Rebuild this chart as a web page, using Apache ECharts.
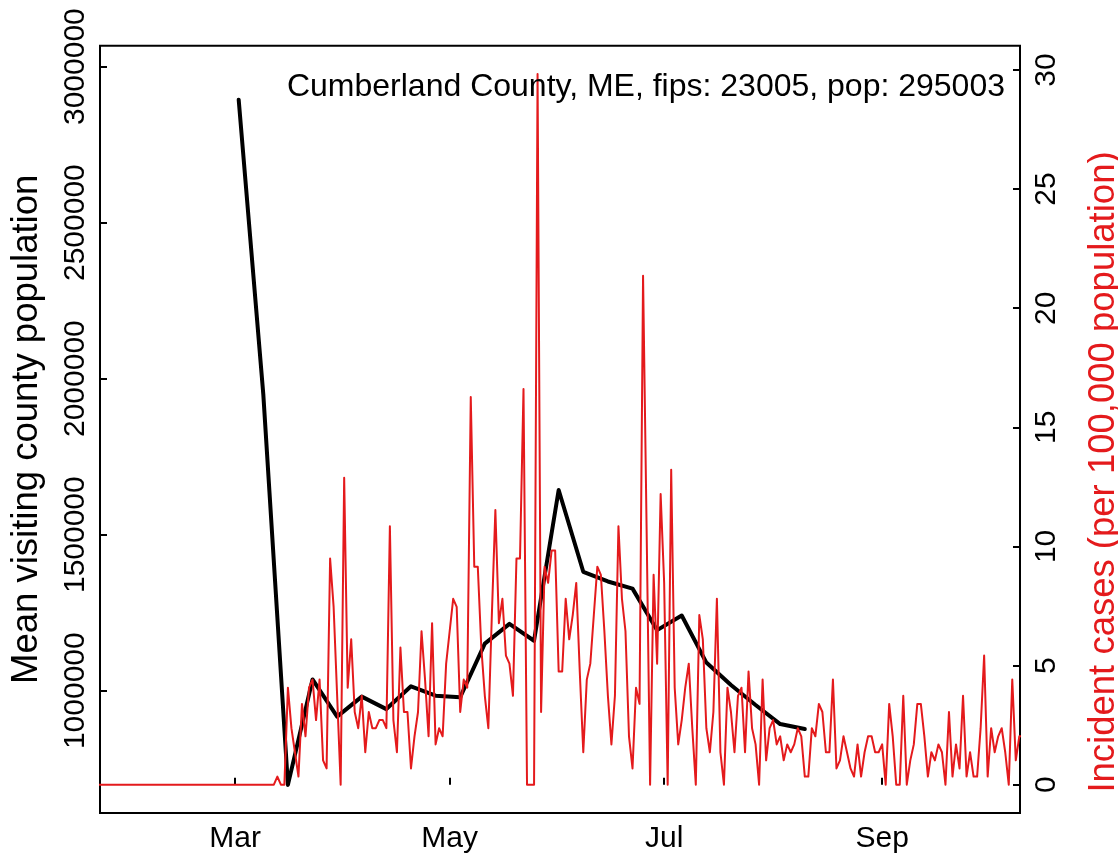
<!DOCTYPE html>
<html>
<head>
<meta charset="utf-8">
<script src="https://cdn.jsdelivr.net/npm/echarts@6/dist/echarts.min.js"></script>
<style>
html,body{margin:0;padding:0;background:#fff;}
#chart{width:1118px;height:857px;}
</style>
</head>
<body>
<div id="chart"></div>
<script>
// ---------- data ----------
const titleText = 'Cumberland County, ME, fips: 23005, pop: 295003';
const leftAxisName = 'Mean visiting county population';
const rightAxisName = 'Incident cases (per 100,000 population)';

// weekly mean visiting population (black line)
const visitDates = ['2020-03-02','2020-03-09','2020-03-16','2020-03-23','2020-03-30','2020-04-06','2020-04-13','2020-04-20','2020-04-27','2020-05-04','2020-05-11','2020-05-18','2020-05-25','2020-06-01','2020-06-08','2020-06-15','2020-06-22','2020-06-29','2020-07-06','2020-07-13','2020-07-20','2020-07-27','2020-08-03','2020-08-10'];
const visitValues = [2894000,1950000,698000,1036000,917000,981000,941000,1014000,984000,979000,1151000,1214000,1160000,1643000,1381000,1350000,1327000,1194000,1241000,1090000,1018000,954000,893000,877000];

// daily incident cases per 100k (red line), first day below
const caseStartDate = '2020-01-22';
const caseValues = [
 0,0,0,0,0,0,0,0,0,0,
 0,0,0,0,0,0,0,0,0,0,0,0,0,0,0,0,0,0,0,0,0,0,0,0,0,0,0,0,0,
 0,0,0,0,0,0,0,0,0,0,0,0,
 0.34,0,0,
 4.07,2.37,1.36,0.34,3.39,2.03,4.07,4.41,2.71,4.41,
 1.02,0.68,9.49,7.46,3.73,0,12.88,4.07,6.10,3.05,
 2.37,3.73,1.36,3.05,2.37,2.37,2.71,2.71,2.37,10.85,
 2.71,1.36,5.76,3.05,3.05,0.68,2.03,3.05,6.44,4.41,
 2.03,6.78,1.69,2.37,2.03,5.08,6.44,7.80,7.46,3.05,
 4.41,4.07,16.27,9.15,9.15,5.76,3.73,2.37,7.12,11.53,
 6.78,7.80,5.42,5.08,3.73,9.49,9.49,16.61,0,0,
 0,29.83,3.05,9.15,8.47,9.83,9.83,4.75,4.75,7.80,
 6.10,7.12,8.47,4.75,1.36,4.41,5.08,7.12,9.15,8.81,
 6.44,3.73,1.69,3.73,10.85,7.80,6.44,2.03,0.68,4.07,
 3.39,21.36,10.85,0,8.81,5.08,12.20,8.47,0,13.22,
 4.07,1.69,2.71,4.07,5.08,2.37,0,7.12,6.10,2.37,
 1.36,3.05,7.80,1.36,0,4.07,3.05,1.36,3.73,4.07,
 1.36,4.75,2.37,1.69,0,4.41,1.02,2.37,2.71,1.69,
 2.03,1.02,1.69,1.36,1.69,2.37,2.03,0.34,0.34,2.37,
 2.03,3.39,3.05,1.36,1.36,4.41,0.68,1.02,2.03,1.36,
 0.68,0.34,1.69,0.34,1.36,2.03,2.03,1.36,1.36,1.69,
 0,3.39,2.03,0,0,3.73,0,1.02,1.69,3.39,
 3.39,2.03,0.34,1.36,1.02,1.69,1.36,0,3.05,0.34,
 1.69,0.68,3.73,0.34,1.36,0.34,0.34,2.37,5.42,0.34,
 2.37,1.36,2.03,2.37,1.36,0,4.41,1.02,2.03,2.03
];

// axis ticks
const monthTickDates = ['2020-03-01','2020-05-01','2020-07-01','2020-09-01'];
const monthTickLabels = ['Mar','May','Jul','Sep'];
const leftTicks = [1000000,1500000,2000000,2500000,3000000];
const rightTicks = [0,5,10,15,20,25,30];

// ---------- helpers ----------
function ts(s){ const p = s.split('-').map(Number); return Date.UTC(p[0], p[1]-1, p[2]); }
const DAY = 86400000;
const mar1 = ts('2020-03-01');
const xMin = mar1 - 38.44*DAY;
const xMax = mar1 + 223.2*DAY;

const sp = caseStartDate.split('-').map(Number);
const caseData = caseValues.map((v,i)=>[Date.UTC(sp[0], sp[1]-1, sp[2]+i), v]);
const visitData = visitDates.map((d,i)=>[ts(d), visitValues[i]]);
const monthTicks = monthTickDates.map(ts);

const FONT = '"Liberation Sans", Arial, Helvetica, sans-serif';
const RED = '#E41A1C';

const chart = echarts.init(document.getElementById('chart'), null, {renderer:'canvas'});
chart.setOption({
  animation:false,
  backgroundColor:'#fff',
  title:{
    text:titleText, right:113, top:71.4, padding:0,
    textStyle:{fontFamily:FONT, fontSize:32, fontWeight:'normal', color:'#000'}
  },
  graphic:[{
    type:'text', x:1103.5, y:472, rotation:Math.PI/2, silent:true,
    style:{text:rightAxisName, fill:RED, fontFamily:FONT, fontSize:36.5,
           align:'center', verticalAlign:'middle', textAlign:'center', textVerticalAlign:'middle'}
  }],
  grid:{left:100, right:98, top:45.7, bottom:44, show:true, borderColor:'#000', borderWidth:2,
        containLabel:false, outerBoundsMode:'none'},
  xAxis:{
    type:'value', min:xMin, max:xMax, scale:true,
    axisLine:{show:false},
    axisTick:{show:true, inside:true, length:7, customValues:monthTicks, lineStyle:{color:'#000', width:2}},
    axisLabel:{customValues:monthTicks, margin:11, fontFamily:FONT, fontSize:30, color:'#000', hideOverlap:false,
      formatter:function(v){ const i = monthTicks.indexOf(v); return i>=0 ? monthTickLabels[i] : ''; }},
    splitLine:{show:false}
  },
  yAxis:[{
    type:'value', position:'left', min:608000, max:3067000,
    axisLine:{show:false},
    axisTick:{show:true, inside:true, length:7, customValues:leftTicks, lineStyle:{color:'#000', width:2}},
    axisLabel:{customValues:leftTicks, rotate:90, margin:9.5, fontFamily:FONT, fontSize:30, color:'#000',
      formatter:function(v){ return String(v); }},
    splitLine:{show:false},
    name:leftAxisName, nameLocation:'middle', nameRotate:90, nameGap:55,
    nameTextStyle:{fontFamily:FONT, fontSize:36.5, color:'#000'}
  },{
    type:'value', position:'right', min:-1.19, max:31.02,
    axisLine:{show:false},
    axisTick:{show:true, inside:true, length:7, customValues:rightTicks, lineStyle:{color:'#000', width:2}},
    axisLabel:{customValues:rightTicks, rotate:90, margin:12, fontFamily:FONT, fontSize:30, color:'#000',
      formatter:function(v){ return String(v); }},
    splitLine:{show:false}
  }],
  series:[{
    name:'visits', type:'line', yAxisIndex:0, data:visitData, symbol:'none', z:2,
    lineStyle:{color:'#000', width:4, cap:'round', join:'round'}
  },{
    name:'cases', type:'line', yAxisIndex:1, data:caseData, symbol:'none', z:3, clip:true,
    lineStyle:{color:RED, width:2, join:'round', cap:'round'}
  }]
});
</script>
</body>
</html>
